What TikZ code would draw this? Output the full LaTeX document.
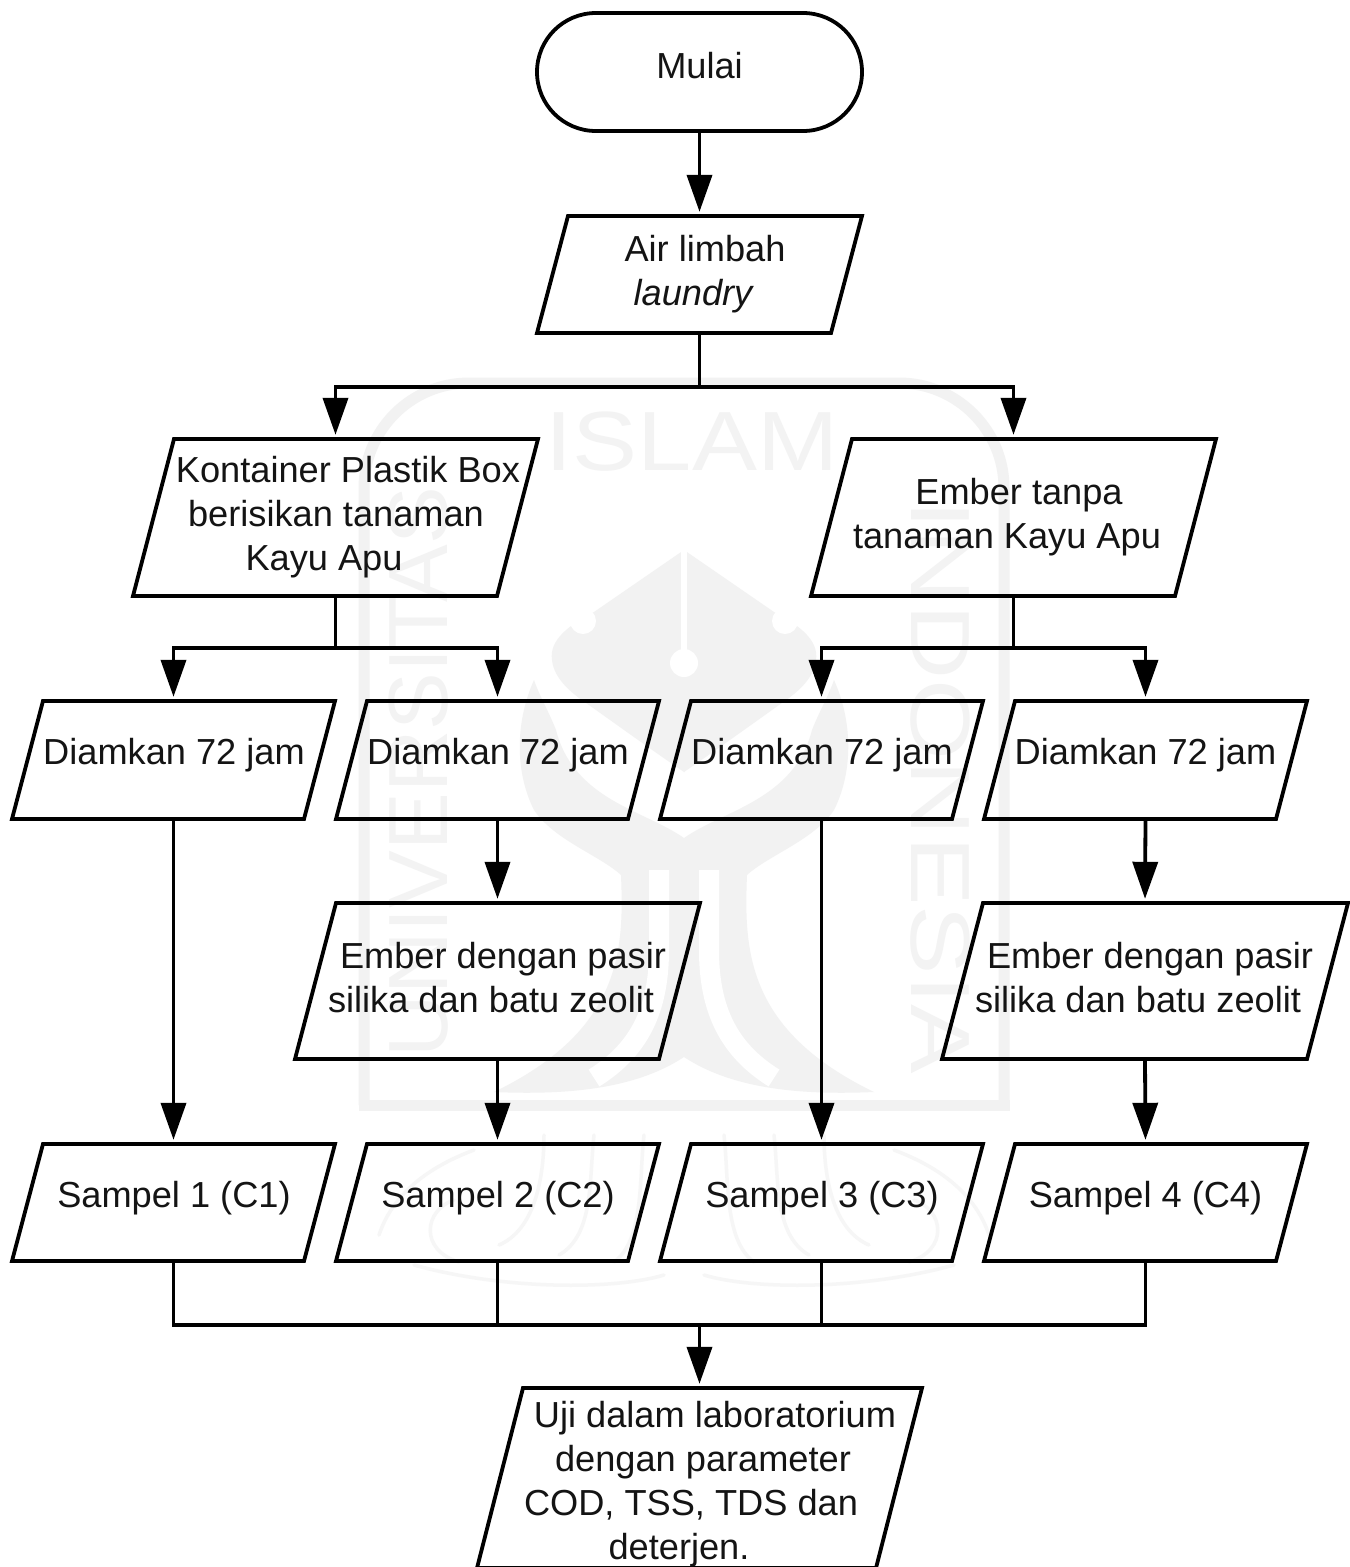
\documentclass[tikz,border=0pt]{standalone}
\usepackage{fontspec}
\setmainfont{Liberation Sans}
\usetikzlibrary{arrows.meta}
\definecolor{wm}{HTML}{F2F2F2}
\definecolor{wmtx}{HTML}{F3F3F3}
\definecolor{wmlight}{HTML}{F6F6F6}
\tikzset{
  x=1pt,y=-1pt,
  boxline/.style={draw=black,line width=3.8pt,line join=miter},
  boxtext/.style={inner sep=0pt,align=center,font=\fontsize{36.2}{44}\selectfont,text=black!92},
  flow/.style={draw=black,line width=3.8pt},
  arrowflow/.style={flow,-{Triangle[length=37pt,width=25pt]},shorten >=4pt},
  wmtext/.style={inner sep=0pt,text=wmtx,font=\fontsize{84}{84}\selectfont},
  swash/.style={draw=wmlight,line width=3.5pt,line cap=round},
}
\newcommand{\parabox}[7]{%
  \draw[boxline] ({#2+#6},#4)--(#3,#4)--({#3-#6},#5)--(#2,#5)--cycle;
  \node[inner sep=0pt,minimum width={(#3-#2)*1pt},minimum height={(#5-#4)*1pt}] (#1) at ({(#2+#3)/2},{(#4+#5)/2}) {};
  #7}
\newcommand{\lft}[1]{\leavevmode\kern#1pt\relax}
\newcommand{\wmhalf}{%
  % onion
  \fill[wm] (0,550) -- (-90,612) .. controls (-115,625) and (-135,640) .. (-132,660)
    .. controls (-130,680) and (-110,695) .. (-95,705)
    .. controls (-60,730) and (-25,755) .. (0,772) -- cycle;
  \fill[white] (-101,621) circle[radius=13];
  % lower wing and trunk
  \fill[wm] (-150,680) .. controls (-168,720) and (-170,770) .. (-150,810)
    .. controls (-130,840) and (-85,855) .. (-63,875)
    .. controls (-60,950) and (-62,1030) .. (-190,1092)
    .. controls (-120,1095) and (-50,1090) .. (0,1057)
    -- (0,838) .. controls (-40,810) and (-110,800) .. (-128,730)
    .. controls (-135,712) and (-145,695) .. (-150,680) -- cycle;
  % white stripe of the trunk
  \draw[white,line width=20pt] (-25,870) -- (-25,950) .. controls (-25,1010) and (-45,1050) .. (-90,1078);
  % calligraphy hints
  \draw[swash] (-40,1135) .. controls (-45,1180) and (-40,1240) .. (-70,1262);
  \draw[swash] (-90,1135) .. controls (-95,1180) and (-90,1235) .. (-125,1255);
  \draw[swash] (-140,1135) .. controls (-140,1180) and (-150,1230) .. (-185,1245);
  \draw[swash] (-210,1150) .. controls (-250,1165) and (-290,1190) .. (-305,1235);
  \draw[swash] (-230,1200) .. controls (-260,1210) and (-265,1250) .. (-225,1262);
  \draw[swash] (-20,1275) .. controls (-70,1290) and (-180,1290) .. (-270,1265);
}
\begin{document}
\begin{tikzpicture}
\useasboundingbox (0,0) rectangle (1350,1567);
\fill[white] (0,0) rectangle (1350,1567);
% background watermark
\draw[wm,line width=11pt,rounded corners=105pt] (364,1105) -- (364,383) -- (1004,383) -- (1004,1105);
\draw[wm,line width=11pt] (358.5,1105) -- (1009.5,1105);
\begin{scope}[shift={(684,0)}]
  \wmhalf
\end{scope}
\begin{scope}[shift={(684,0)},xscale=-1]
  \wmhalf
\end{scope}
\draw[white,line width=6pt] (684,530) -- (684,650);
\fill[white] (684,663) circle[radius=14];
\node[wmtext,xscale=1.16] (wmislam) at (692,442) {ISLAM};
\node[wmtext,rotate=90,xscale=1.03] (wmuniv) at (419,772) {UNIVERSITAS};
\node[wmtext,rotate=-90,xscale=1.24] (wmindo) at (940,787) {INDONESIA};
% flow boxes
\node[boxline,rounded corners=58.9pt,inner sep=0pt,minimum width=325pt,minimum height=118pt] (start) at (699.5,72) {};
\node[boxtext] (tstart) at (699.5,66) {Mulai};
\parabox{air}{537}{862}{216}{333}{31}{\node[boxtext] (tair) at (693,274) {\lft{24}Air limbah\\\itshape laundry};}
\parabox{kon}{133}{538}{439}{596}{41}{\node[boxtext] (tkon) at (336,517) {\lft{24}Kontainer Plastik Box\\berisikan tanaman\\Kayu Apu\lft{24}};}
\parabox{emb}{811}{1216}{439}{596}{41}{\node[boxtext] (temb) at (1007,517) {\lft{24}Ember tanpa\\tanaman Kayu Apu};}
\parabox{dia}{12}{335}{701}{819}{31}{\node[boxtext] (tdia) at (174,755.5) {Diamkan 72 jam};}
\parabox{dib}{336}{659}{701}{819}{31}{\node[boxtext] (tdib) at (498,755.5) {Diamkan 72 jam};}
\parabox{dic}{660}{983}{701}{819}{31}{\node[boxtext] (tdic) at (822,755.5) {Diamkan 72 jam};}
\parabox{did}{984}{1307}{701}{819}{31}{\node[boxtext] (tdid) at (1145.5,755.5) {Diamkan 72 jam};}
\parabox{pasa}{295}{700}{903}{1059}{41}{\node[boxtext] (tpasa) at (491,977.5) {\lft{24}Ember dengan pasir\\silika dan batu zeolit};}
\parabox{pasb}{942}{1348}{903}{1059}{41}{\node[boxtext] (tpasb) at (1138,977.5) {\lft{24}Ember dengan pasir\\silika dan batu zeolit};}
\parabox{saa}{12}{335}{1144}{1261}{31}{\node[boxtext] (tsaa) at (174,1198) {Sampel 1 (C1)};}
\parabox{sab}{336}{659}{1144}{1261}{31}{\node[boxtext] (tsab) at (498,1198) {Sampel 2 (C2)};}
\parabox{sac}{660}{983}{1144}{1261}{31}{\node[boxtext] (tsac) at (822,1198) {Sampel 3 (C3)};}
\parabox{sad}{984}{1307}{1144}{1261}{31}{\node[boxtext] (tsad) at (1145.5,1198) {Sampel 4 (C4)};}
\parabox{uji}{477}{922}{1388}{1568}{46}{\node[boxtext] (tuji) at (703,1484) {\lft{24}Uji dalam laboratorium\\dengan parameter\\COD, TSS, TDS dan\lft{24}\\deterjen.\lft{48}};}
% junction coordinates
\coordinate (j1) at (699.5,387);
\coordinate (j2) at (335.5,648);
\coordinate (j3) at (1013.5,648);
\coordinate (j4) at (699.5,1325);
% connectors
\draw[arrowflow] (start.south) -- (air.north);
\draw[flow] (air.south) -- (j1);
\draw[arrowflow] (j1) -| (kon.north);
\draw[arrowflow] (j1) -| (emb.north);
\draw[flow] (kon.south) -- (j2);
\draw[arrowflow] (j2) -| (dia.north);
\draw[arrowflow] (j2) -| (dib.north);
\draw[flow] (emb.south) -- (j3);
\draw[arrowflow] (j3) -| (dic.north);
\draw[arrowflow] (j3) -| (did.north);
\draw[arrowflow] (dia.south) -- (saa.north);
\draw[arrowflow] (dib.south) -- (pasa.north);
\draw[arrowflow] (pasa.south) -- (sab.north);
\draw[arrowflow] (dic.south) -- (sac.north);
\draw[arrowflow] (did.south) -- (pasb.north);
\draw[arrowflow] (pasb.south) -- (sad.north);
\draw[flow] (saa.south) |- (j4);
\draw[flow] (sab.south) |- (j4);
\draw[flow] (sac.south) |- (j4);
\draw[flow] (sad.south) |- (j4);
\draw[arrowflow] (j4) -- (uji.north);
\end{tikzpicture}
\end{document}
